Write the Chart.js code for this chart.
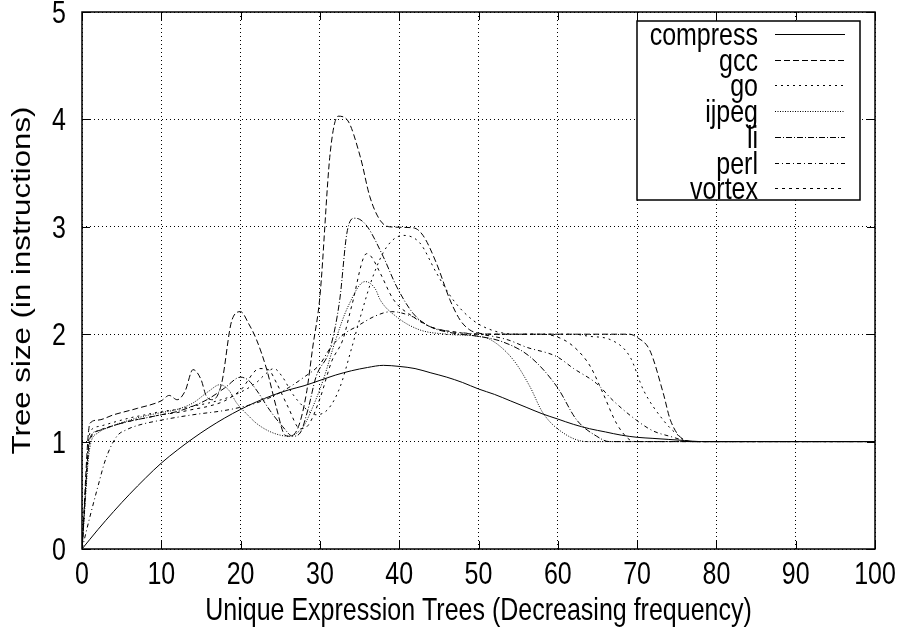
<!DOCTYPE html>
<html>
<head>
<meta charset="utf-8">
<script src="https://cdn.jsdelivr.net/npm/chart.js@4.4.0/dist/chart.umd.min.js"></script>
<style>
  html, body { margin: 0; padding: 0; background: #fff; }
</style>
</head>
<body>
<canvas id="treeChart" width="899" height="634"></canvas>
<script>
// values, [x, y]
const compress = [[0,0],[2,0.18],[4,0.35],[6,0.51],[8,0.66],[10,0.8],[12,0.92],[14,1.03],[16,1.13],[18,1.22],
  [20,1.3],[22,1.37],[24,1.43],[26,1.48],[28,1.52],[30,1.57],[32,1.62],[34,1.66],[36,1.69],[38,1.71],[40,1.7],
  [42,1.68],[44,1.64],[46,1.6],[48,1.55],[50,1.49],[52,1.44],[54,1.38],[56,1.32],[58,1.26],[60,1.21],[62,1.16],
  [64,1.12],[66,1.09],[68,1.06],[70,1.04],[72,1.03],[74,1.02],[76,1.01],[78,1.0],[80,1],[100,1]];
const gcc = [[0,0],[1,1.17],[2,1.2],[4,1.25],[7,1.31],[10,1.38],[11,1.43],[12,1.39],[13,1.47],[14,1.67],[15,1.58],
  [15.7,1.42],[16.5,1.39],[17.6,1.54],[18.9,2.13],[20,2.21],[21,2.1],[22,1.95],[23.3,1.67],[24.5,1.32],[25.6,1.06],
  [26.2,1.05],[27.3,1.14],[28.3,1.45],[29.1,1.88],[30,2.35],[31.3,3.69],[32.3,4.03],[33.4,4.0],[35.1,3.65],[36.3,3.28],
  [37.6,3.06],[38.8,3.0],[41.8,2.99],[43,2.92],[44.7,2.66],[46.4,2.32],[47.7,2.13],[48.9,2.04],[50,2.01],[52,2.0],
  [69,2.0],[70,1.97],[71.6,1.85],[73.3,1.45],[74.2,1.2],[75.8,1.02],[77,1.0],[100,1]];
const go = [[0,0],[1,1.08],[2,1.14],[4,1.18],[6,1.22],[8,1.25],[10,1.28],[12,1.3],[14,1.33],[16,1.36],[18,1.4],
  [20,1.46],[22,1.55],[23,1.62],[24.2,1.68],[25.3,1.6],[26.5,1.45],[28,1.32],[29.5,1.25],[31,1.3],[32.5,1.5],[34,1.87],
  [35.1,2.16],[36.7,2.54],[38.4,2.81],[40.5,2.92],[42.6,2.85],[44.7,2.57],[46.8,2.32],[49.3,2.13],[52,2.03],[55,2.0],
  [62,2.0],[64,1.98],[66.6,1.95],[69.1,1.79],[70.8,1.48],[73.3,1.2],[75,1.07],[76.5,1.0],[100,1]];
const ijpeg = [[0,0],[1,0.95],[2,1.08],[4,1.15],[6,1.2],[8,1.24],[10,1.27],[12,1.3],[14,1.36],[16,1.47],[17.4,1.53],
  [18.5,1.48],[19.5,1.36],[21,1.24],[22,1.17],[23.5,1.1],[25,1.06],[26,1.05],[27.1,1.08],[28,1.15],[28.8,1.27],
  [30.4,1.57],[32,1.95],[33.5,2.25],[35.7,2.49],[37,2.42],[37.6,2.32],[39.7,2.16],[42.6,2.04],[46,2.0],[50,1.98],
  [51.5,1.95],[54.4,1.76],[56.5,1.51],[58.1,1.27],[60.7,1.08],[63.7,1.0],[100,1]];
const li = [[0,0],[1,1.03],[2,1.1],[4,1.15],[6,1.19],[8,1.22],[10,1.25],[12,1.28],[14,1.33],[16,1.4],[18,1.5],
  [20,1.6],[21,1.57],[22,1.48],[23.7,1.29],[25.3,1.14],[26.6,1.05],[27.5,1.08],[28.5,1.3],[29.5,1.6],[31.3,1.87],
  [32.5,2.32],[33.4,2.94],[34.3,3.08],[35,3.07],[36,3.0],[38,2.72],[39.7,2.44],[41.8,2.19],[43.9,2.07],[46.8,2.01],
  [50,1.98],[53,1.93],[56.5,1.79],[59.9,1.51],[62.4,1.2],[64.9,1.05],[66.5,1.0],[100,1]];
const perl = [[0,0],[1,0.3],[2,0.58],[3,0.84],[4.4,1.05],[5.6,1.11],[7,1.15],[10,1.2],[14,1.25],[18,1.29],[20,1.32],
  [22,1.36],[24,1.42],[26,1.5],[28,1.6],[30,1.72],[31.3,1.87],[33,2.0],[34.6,2.07],[37,2.17],[39,2.21],[41.8,2.16],
  [43.9,2.07],[46,2.03],[48.4,2.01],[50,2.0],[53.6,1.95],[56,1.88],[59.9,1.79],[62,1.68],[64.9,1.54],[67,1.38],
  [69.9,1.2],[72,1.1],[74.1,1.05],[77,1.0],[100,1]];
const vortex = [[0,0],[1,1.0],[2,1.1],[4,1.15],[6,1.19],[8,1.22],[10,1.25],[12,1.27],[14,1.3],[16,1.33],[18,1.38],
  [20,1.48],[22.4,1.68],[23.5,1.67],[24.5,1.55],[26,1.32],[27.5,1.12],[28.5,1.15],[30,1.4],[31.5,1.75],[32.9,1.95],
  [34,2.26],[35.9,2.75],[36.5,2.72],[37.6,2.57],[39.3,2.32],[41.8,2.16],[43.9,2.07],[47,2.02],[50,2.0],[58,2.0],
  [60.7,1.95],[62.5,1.85],[64.1,1.7],[65.7,1.45],[67.4,1.17],[69,1.02],[70,1.0],[100,1]];

const xTitle = 'Unique Expression Trees (Decreasing frequency)';
const yTitle = 'Tree size (in instructions)';
const FONT = '25px "Liberation Sans", Arial, Helvetica, sans-serif';
const STRETCH = 1.25; // the original postscript text is taller than it is wide

const series = [
  { label: 'compress', data: compress, dash: [] },
  { label: 'gcc', data: gcc, dash: [6, 3] },
  { label: 'go', data: go, dash: [2, 4] },
  { label: 'ijpeg', data: ijpeg, dash: [1, 1.5] },
  { label: 'li', data: li, dash: [6, 2, 1, 2] },
  { label: 'perl', data: perl, dash: [4, 3, 1, 3] },
  { label: 'vortex', data: vortex, dash: [3, 4] }
];

function tallText(ctx, text, x, y, align, rotated) {
  ctx.save();
  ctx.translate(x, y);
  if (rotated) {
    ctx.rotate(-Math.PI / 2);
    ctx.scale(STRETCH, 1);
  } else {
    ctx.scale(1, STRETCH);
  }
  ctx.textAlign = align;
  ctx.textBaseline = 'alphabetic';
  ctx.fillText(text, 0, 0);
  ctx.restore();
}

// frame, inner tick marks, labels and the boxed key, gnuplot style
const gnuplotFrame = {
  id: 'gnuplotFrame',
  afterDraw(chart) {
    const { ctx, chartArea: a, scales } = chart;
    ctx.save();
    ctx.strokeStyle = '#000';
    ctx.fillStyle = '#000';
    ctx.lineWidth = 1.5;
    ctx.setLineDash([]);
    ctx.strokeRect(a.left, a.top, a.right - a.left, a.bottom - a.top);

    ctx.lineWidth = 1;
    ctx.beginPath();
    scales.x.ticks.forEach(t => {
      const px = Math.round(scales.x.getPixelForValue(t.value)) + 0.5;
      ctx.moveTo(px, a.bottom); ctx.lineTo(px, a.bottom - 8);
      ctx.moveTo(px, a.top); ctx.lineTo(px, a.top + 8);
    });
    scales.y.ticks.forEach(t => {
      const py = Math.round(scales.y.getPixelForValue(t.value)) + 0.5;
      ctx.moveTo(a.left, py); ctx.lineTo(a.left + 8, py);
      ctx.moveTo(a.right, py); ctx.lineTo(a.right - 8, py);
    });
    ctx.stroke();

    ctx.font = FONT;
    scales.x.ticks.forEach(t => {
      tallText(ctx, String(t.value), scales.x.getPixelForValue(t.value), a.bottom + 35, 'center');
    });
    scales.y.ticks.forEach(t => {
      tallText(ctx, String(t.value), a.left - 16, scales.y.getPixelForValue(t.value) + 11, 'right');
    });
    tallText(ctx, xTitle, (a.left + a.right) / 2, 620, 'center');
    tallText(ctx, yTitle, 30, (a.top + a.bottom) / 2, 'center', true);

    // key box
    const box = { left: 637, top: 21, right: 860, bottom: 200 };
    ctx.fillStyle = '#fff';
    ctx.fillRect(box.left, box.top, box.right - box.left, box.bottom - box.top);
    ctx.lineWidth = 1.5;
    ctx.strokeRect(box.left, box.top, box.right - box.left, box.bottom - box.top);

    ctx.fillStyle = '#000';
    chart.data.datasets.forEach((ds, i) => {
      const y = 34 + i * 25.7;
      tallText(ctx, ds.label, 758, y + 11, 'right');
      ctx.lineWidth = 1;
      ctx.setLineDash(ds.borderDash);
      ctx.beginPath();
      ctx.moveTo(775, Math.round(y) + 0.5);
      ctx.lineTo(845, Math.round(y) + 0.5);
      ctx.stroke();
    });
    ctx.restore();
  }
};

const ctx = document.getElementById('treeChart').getContext('2d');
new Chart(ctx, {
  type: 'line',
  data: {
    datasets: series.map(s => ({
      label: s.label,
      data: s.data.map(p => ({ x: p[0], y: p[1] })),
      borderColor: '#000',
      borderWidth: 1,
      borderDash: s.dash,
      pointRadius: 0,
      fill: false,
      cubicInterpolationMode: 'monotone'
    }))
  },
  options: {
    responsive: false,
    animation: false,
    layout: { padding: { top: 12, right: 24, left: 0, bottom: 0 } },
    plugins: { legend: { display: false }, tooltip: { enabled: false } },
    scales: {
      x: {
        type: 'linear',
        min: 0, max: 100,
        afterFit: s => { s.height = 85; s.paddingLeft = 0; s.paddingRight = 0; },
        ticks: { stepSize: 10, display: false },
        grid: { color: '#000', lineWidth: 1, drawTicks: false },
        border: { display: false, dash: [1, 3] }
      },
      y: {
        min: 0, max: 5,
        afterFit: s => { s.width = 82; s.paddingTop = 0; s.paddingBottom = 0; },
        ticks: { stepSize: 1, display: false },
        grid: { color: '#000', lineWidth: 1, drawTicks: false },
        border: { display: false, dash: [1, 3] }
      }
    }
  },
  plugins: [gnuplotFrame]
});
</script>
</body>
</html>
